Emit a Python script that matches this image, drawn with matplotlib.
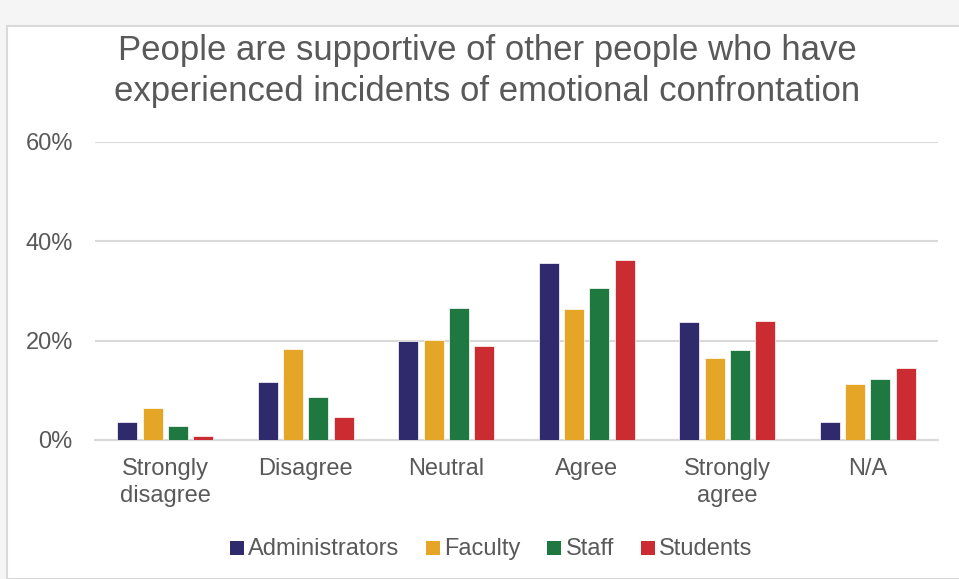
import matplotlib.pyplot as plt
import numpy as np
from matplotlib.patches import Rectangle

categories = ["Strongly\ndisagree", "Disagree", "Neutral", "Agree", "Strongly\nagree", "N/A"]
series = ["Administrators", "Faculty", "Staff", "Students"]
administrators = [3.7, 11.7, 19.9, 35.7, 23.7, 3.7]
faculty = [6.4, 18.3, 20.1, 26.4, 16.5, 11.2]
staff = [2.9, 8.6, 26.6, 30.7, 18.1, 12.3]
students = [0.8, 4.6, 18.9, 36.3, 24.0, 14.4]
colors = ["#2E2A6B", "#E5A526", "#1E7840", "#CB2C31"]

plt.rcParams['font.family'] = ['Liberation Sans', 'DejaVu Sans']
text_col = "#595959"
W, H = 959, 579

fig = plt.figure(figsize=(W / 100, H / 100), dpi=100)
fig.patch.set_facecolor("#F5F5F5")
# chart area with light border, kept behind the axes
fig.patches.append(Rectangle((7 / W, 0), 1, 1 - 26 / H, transform=fig.transFigure,
                             facecolor="white", edgecolor="#D9D9D9", linewidth=1.5, zorder=-10))

ax = fig.add_axes([95 / W, 1 - 440 / H, (938 - 95) / W, (440 - 142) / H])
ax.patch.set_alpha(0)

x = np.arange(len(categories))
width = 0.142
step = 0.18
data = [administrators, faculty, staff, students]
for i, (vals, c, name) in enumerate(zip(data, colors, series)):
    ax.bar(x + (i - 1.5) * step, np.array(vals) / 100, width, color=c, label=name,
           edgecolor="white", linewidth=0.5, zorder=3)

ax.set_xlim(-0.5, len(categories) - 0.5)
ax.set_ylim(0, 0.6)
ax.set_yticks([0, 0.2, 0.4, 0.6])
ax.set_yticklabels(["0%", "20%", "40%", "60%"])
ax.set_xticks(x)
ax.set_xticklabels(categories, linespacing=1.3)
ax.grid(axis="y", color="#D9D9D9", linewidth=1.5, zorder=0)
ax.set_axisbelow(True)
for s in ["top", "right", "left"]:
    ax.spines[s].set_visible(False)
ax.spines["bottom"].set_color("#D9D9D9")
ax.spines["bottom"].set_linewidth(1.5)
ax.tick_params(axis="both", length=0, labelsize=17, colors=text_col)
ax.tick_params(axis="y", pad=16)
ax.tick_params(axis="x", pad=13)

fig.text(487 / W, 1 - 71 / H,
         "People are supportive of other people who have\nexperienced incidents of emotional confrontation",
         ha="center", va="center", fontsize=25, color=text_col, linespacing=1.28)

# legend drawn by hand so every label sits on the same baseline
renderer = fig.canvas.get_renderer()
sq, gap, colgap = 14, 4, 27
baseline = 555
texts, widths = [], []
for name in series:
    t = fig.text(0, 1 - baseline / H, name, fontsize=17, color=text_col, va="baseline")
    texts.append(t)
    widths.append(t.get_window_extent(renderer).width)
total = sum(sq + gap + w for w in widths) + colgap * (len(series) - 1)
xpos = 491 - total / 2
for t, w, c in zip(texts, widths, colors):
    fig.patches.append(Rectangle((xpos / W, 1 - (548 + sq / 2) / H), sq / W, sq / H,
                                 transform=fig.transFigure, facecolor=c, edgecolor="none"))
    t.set_x((xpos + sq + gap) / W)
    xpos += sq + gap + w + colgap

fig.savefig("out.png", dpi=100, facecolor=fig.get_facecolor())
